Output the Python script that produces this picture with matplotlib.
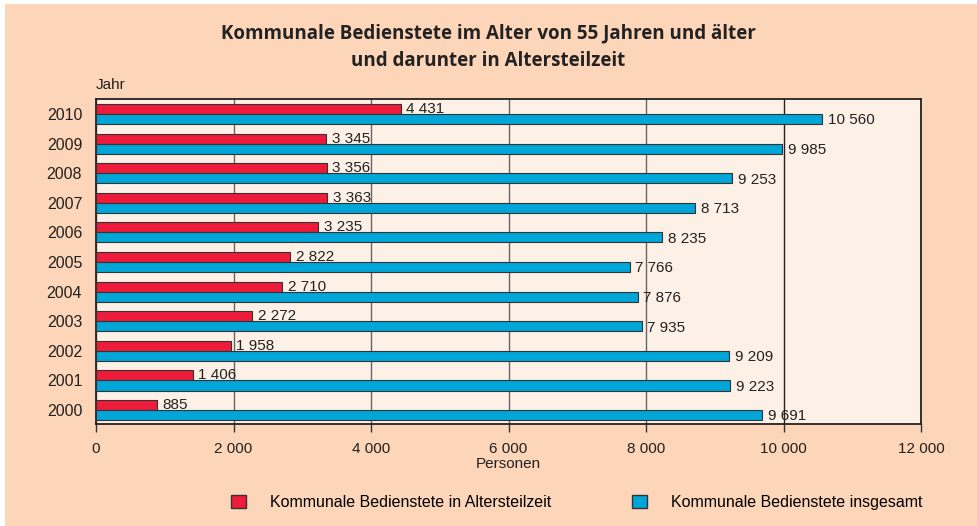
import matplotlib.pyplot as plt
from matplotlib.patches import Patch, Rectangle
import numpy as np

years = ['2000', '2001', '2002', '2003', '2004', '2005', '2006', '2007', '2008', '2009', '2010']
altersteilzeit = [885, 1406, 1958, 2272, 2710, 2822, 3235, 3363, 3356, 3345, 4431]
insgesamt = [9691, 9223, 9209, 7935, 7876, 7766, 8235, 8713, 9253, 9985, 10560]
xticks = [0, 2000, 4000, 6000, 8000, 10000, 12000]
xticklabels = ['0', '2 000', '4 000', '6 000', '8 000', '10 000', '12 000']

bg = '#fdd5b8'
plot_bg = '#fdf0e6'
red = '#ee1c3a'
blue = '#00a6d8'
txt = '#222222'

plt.rcParams['font.family'] = ['Liberation Sans', 'DejaVu Sans']

fig = plt.figure(figsize=[9.77, 5.26], dpi=100, facecolor=bg)
# thin white edge on top and left
fig.add_artist(Rectangle((0, 1 - 4 / 526), 1, 4 / 526, transform=fig.transFigure,
                         facecolor='white', edgecolor='none', zorder=0))
fig.add_artist(Rectangle((0, 0), 5 / 977, 1, transform=fig.transFigure,
                         facecolor='white', edgecolor='none', zorder=0))

ax = fig.add_axes([0.0983, 0.194, 0.8444, 0.618])
ax.set_facecolor(plot_bg)

y = np.arange(len(years))
h = 0.34
ax.barh(y + h / 2, altersteilzeit, height=h, color=red, edgecolor='#333333', linewidth=0.8, zorder=3)
ax.barh(y - h / 2, insgesamt, height=h, color=blue, edgecolor='#333333', linewidth=0.8, zorder=3)

def fmt(v):
    return f'{v:,}'.replace(',', ' ')

for i in range(len(years)):
    ax.annotate(fmt(altersteilzeit[i]), (altersteilzeit[i], y[i] + h / 2), xytext=(4, 0),
                textcoords='offset points', va='center', ha='left', fontsize=11, color=txt, zorder=4)
    ax.annotate(fmt(insgesamt[i]), (insgesamt[i], y[i] - h / 2), xytext=(4, -1),
                textcoords='offset points', va='center', ha='left', fontsize=11, color=txt, zorder=4)

ax.set_xlim(0, 12000)
ax.set_ylim(-0.47, 10.51)
ax.set_xticks(xticks)
ax.set_xticklabels(xticklabels, fontsize=11, color=txt)
ax.set_yticks(y)
ax.set_yticklabels(years, fontsize=11.5, color=txt)
ax.tick_params(axis='y', length=0, pad=10)
ax.tick_params(axis='x', length=6, width=1, color='#333333', pad=7, direction='out')
ax.grid(axis='x', color='#666666', linewidth=1.0, zorder=1)
ax.get_xgridlines()[5].set_color('#222222')
for s in ax.spines.values():
    s.set_color(txt)
    s.set_linewidth(1.3)

ax.set_xlabel('Personen', fontsize=11, color=txt, labelpad=1)
ax.text(0, 1.02, 'Jahr', transform=ax.transAxes, fontsize=11, color=txt, ha='left', va='bottom')

fig.text(0.5, 0.91, 'Kommunale Bedienstete im Alter von 55 Jahren und älter\nund darunter in Altersteilzeit',
         ha='center', va='center', fontsize=13.5, fontweight='bold', family=['Open Sans', 'DejaVu Sans'],
         color=txt, linespacing=1.5)

h1 = Patch(facecolor=red, edgecolor='#333333')
h2 = Patch(facecolor=blue, edgecolor='#333333')
fig.legend([h1], ['Kommunale Bedienstete in Altersteilzeit'], loc='center left', bbox_to_anchor=(0.222, 0.045),
           frameon=False, fontsize=11.5, handlelength=0.95, handleheight=0.95, handletextpad=1.5)
fig.legend([h2], ['Kommunale Bedienstete insgesamt'], loc='center left', bbox_to_anchor=(0.632, 0.045),
           frameon=False, fontsize=11.5, handlelength=0.95, handleheight=0.95, handletextpad=1.5)

fig.savefig('out.png', dpi=100, facecolor=bg)
